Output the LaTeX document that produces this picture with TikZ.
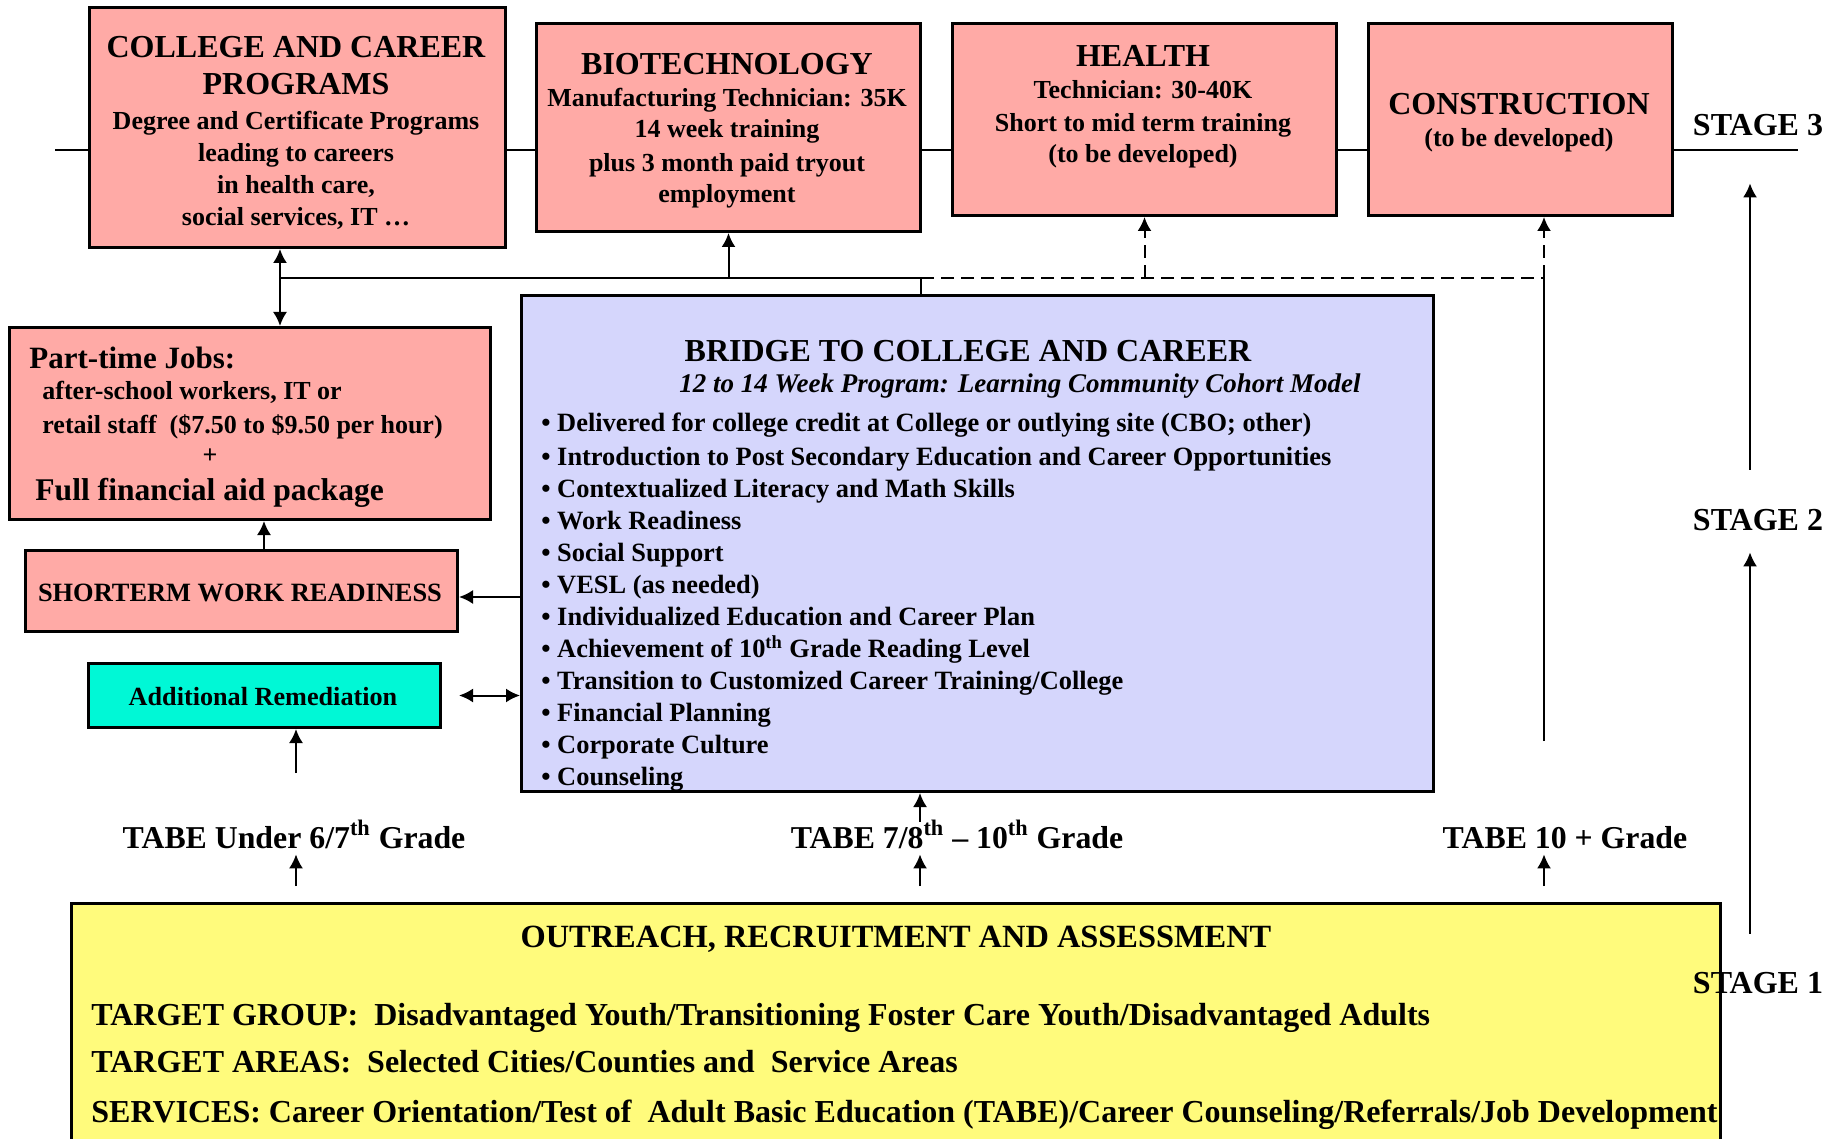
\documentclass[tikz,border=0pt]{standalone}
\usepackage{fontspec}
\setmainfont{Liberation Serif}
\usetikzlibrary{arrows.meta}
\definecolor{boxpink}{HTML}{FFAAA6}
\definecolor{bridgeblue}{HTML}{D5D6FC}
\definecolor{outreachyellow}{HTML}{FFFB7C}
\definecolor{remcyan}{HTML}{00F8D6}
\newcommand\fsz[1]{\fontsize{#1}{#1}\selectfont\bfseries}
\begin{document}
\begin{tikzpicture}[x=0.5pt,y=-0.5pt,
  >={Latex[length=7pt,width=7pt]},
  box/.style={draw, line width=1.5pt, anchor=north west, inner sep=0pt},
  pinkbox/.style={box, fill=boxpink},
  txt/.style={inner sep=0pt, anchor=base},
  ltxt/.style={inner sep=0pt, anchor=base west},
  title/.style={txt, font=\fsz{16}},
  body/.style={txt, font=\fsz{13}},
  bullet/.style={ltxt, font=\fsz{13.2}},
  tabe/.style={txt, font=\fsz{15.9}, text height=13pt, text depth=0pt},
  stage/.style={txt, font=\fsz{16}, text height=10.6pt, text depth=0pt},
  conn/.style={line width=1pt},
  rail/.style={line width=1.4pt},
  dashconn/.style={line width=1pt, dash pattern=on 6.5pt off 3.5pt},
]
\clip (0,0) rectangle (1837,1139);

% ---------- boxes ----------
\node[pinkbox, minimum width=208pt, minimum height=120pt] (college) at (88,6) {};
\node[pinkbox, minimum width=192pt, minimum height=104pt] (biotech) at (535,22) {};
\node[pinkbox, minimum width=192pt, minimum height=96pt] (health) at (951,22) {};
\node[pinkbox, minimum width=152pt, minimum height=96pt] (constr) at (1367,22) {};
\node[pinkbox, minimum width=240.5pt, minimum height=96pt] (parttime) at (8,326) {};
\node[pinkbox, minimum width=216pt, minimum height=40.5pt] (shortterm) at (24,549) {};
\node[box, fill=remcyan, minimum width=176pt, minimum height=32pt] (addrem) at (87,662) {};
\node[box, fill=bridgeblue, minimum width=456pt, minimum height=248pt] (bridge) at (520,294) {};
\node[box, fill=outreachyellow, minimum width=824.5pt, minimum height=122pt] (outreach) at (70,902) {};

% ---------- stage 3 programs ----------
\node[title] (colT1) at (296,58) {COLLEGE AND CAREER};
\node[title] (colT2) at (296,95) {PROGRAMS};
\node[body] (colB1) at (296,130) {Degree and Certificate Programs};
\node[body] (colB2) at (296,162) {leading to careers};
\node[body] (colB3) at (296,194) {in health care,};
\node[body] (colB4) at (296,226) {social services, IT …};

\node[title] (bioT) at (727,75) {BIOTECHNOLOGY};
\node[body] (bioB1) at (727,107) {Manufacturing Technician: 35K};
\node[body] (bioB2) at (727,138) {14 week training};
\node[body] (bioB3) at (727,172) {plus 3 month paid tryout};
\node[body] (bioB4) at (727,203) {employment};

\node[title] (heaT) at (1143,67) {HEALTH};
\node[body] (heaB1) at (1143,99) {Technician: 30-40K};
\node[body] (heaB2) at (1143,132) {Short to mid term training};
\node[body] (heaB3) at (1143,163) {(to be developed)};

\node[title] (conT) at (1519,115) {CONSTRUCTION};
\node[body] (conB) at (1519,147) {(to be developed)};

% ---------- left column ----------
\node[ltxt, font=\fsz{15.5}] (ptT) at (29,368) {Part-time Jobs:};
\node[ltxt, font=\fsz{13}] (ptB1) at (42,400) {after-school workers, IT or};
\node[ltxt, font=\fsz{13}] (ptB2) at (42,433) {retail staff\ \ (\$7.50 to \$9.50 per hour)};
\node[txt, font=\fsz{13}] (ptPlus) at (210,463) {+};
\node[ltxt, font=\fsz{15.8}] (ptB3) at (35,500) {Full financial aid package};

\node[txt, font=\fsz{13.2}] (stT) at (240,601) {SHORTERM WORK READINESS};
\node[txt, font=\fsz{13.1}] (remT) at (263,705) {Additional Remediation};

% ---------- bridge ----------
\node[title] (brT) at (968,362) {BRIDGE TO COLLEGE AND CAREER};
\node[txt, font=\fsz{13.5}\itshape] (brS) at (1020,393) {12 to 14 Week Program: Learning Community Cohort Model};
\node[bullet] (b1) at (541,431) {• Delivered for college credit at College or outlying site (CBO; other)};
\node[bullet] (b2) at (541,465) {• Introduction to Post Secondary Education and Career Opportunities};
\node[bullet] (b3) at (541,497) {• Contextualized Literacy and Math Skills};
\node[bullet] (b4) at (541,529) {• Work Readiness};
\node[bullet] (b5) at (541,561) {• Social Support};
\node[bullet] (b6) at (541,593) {• VESL (as needed)};
\node[bullet] (b7) at (541,625) {• Individualized Education and Career Plan};
\node[bullet] (b8) at (541,657) {• Achievement of 10\textsuperscript{th} Grade Reading Level};
\node[bullet] (b9) at (541,689) {• Transition to Customized Career Training/College};
\node[bullet] (b10) at (541,721) {• Financial Planning};
\node[bullet] (b11) at (541,753) {• Corporate Culture};
\node[bullet] (b12) at (541,785) {• Counseling};

% ---------- assessment levels ----------
\node[tabe] (tabeA) at (294,848) {TABE Under 6/7\textsuperscript{th} Grade};
\node[tabe] (tabeB) at (957,848) {TABE 7/8\textsuperscript{th} – 10\textsuperscript{th} Grade};
\node[tabe] (tabeC) at (1565,848) {TABE 10 + Grade};

% ---------- outreach ----------
\node[txt, font=\fsz{16.2}] (orT) at (896,947) {OUTREACH, RECRUITMENT AND ASSESSMENT};
\node[ltxt, font=\fsz{16}] (or1) at (91,1025) {TARGET GROUP:\ \ Disadvantaged Youth/Transitioning Foster Care Youth/Disadvantaged Adults};
\node[ltxt, font=\fsz{16}] (or2) at (91,1072) {TARGET AREAS:\ \ Selected Cities/Counties and\ \ Service Areas};
\node[ltxt, font=\fsz{16}] (or3) at (91,1122) {SERVICES: Career Orientation/Test of\ \ Adult Basic Education (TABE)/Career Counseling/Referrals/Job Development};

% ---------- stages ----------
\node[stage] (stage3) at (1758,136) {STAGE 3};
\node[stage] (stage2) at (1758,530) {STAGE 2};
\node[stage] (stage1) at (1758,993) {STAGE 1};

% ---------- helper points ----------
\coordinate (lineL) at (55,150);
\coordinate (lineR) at (1798,150);
\coordinate (jL) at (280,278);
\coordinate (jM) at (921,278);
\coordinate (jR) at (1544,278);
\coordinate (cBot) at (1544,741);
\coordinate (swY) at (0,597);
\coordinate (ptX) at (264,0);
\coordinate (remFoot) at (296,773);
\coordinate (stemA) at (296,886);
\coordinate (stemB) at (920,886);
\coordinate (stemC) at (1544,886);
\coordinate (stX) at (1750,0);

% ---------- stage 3 rail ----------
\draw[rail] (lineL) -- (lineL -| college.west);
\draw[rail] (college.east |- lineL) -- (biotech.west |- lineL);
\draw[rail] (biotech.east |- lineL) -- (health.west |- lineL);
\draw[rail] (health.east |- lineL) -- (constr.west |- lineL);
\draw[rail] (constr.east |- lineL) -- (lineR);

% ---------- connectors ----------
\draw[conn, <->] (college.south -| jL) -- (parttime.north -| jL);
\draw[conn] (jL) -- (jM);
\draw[conn, ->] (jM -| biotech.south) -- (biotech.south);
\draw[line width=0.7pt] (jM) -- (jM |- bridge.north);
\draw[dashconn] (jM) -- (jR);
\draw[dashconn, ->] (jM -| health.south) -- (health.south);
\draw[dashconn, ->] (jR) -- (jR |- constr.south);
\draw[conn] (cBot) -- (jR);

\draw[conn, ->] (bridge.west |- swY) -- (shortterm.east |- swY);
\draw[conn, ->] (shortterm.north -| ptX) -- (parttime.south -| ptX);
\draw[conn, <->, shorten <=8.5pt] (addrem.east) -- (addrem.east -| bridge.west);
\draw[conn, ->] (remFoot) -- (remFoot |- addrem.south);

\draw[conn, ->, shorten >=3pt] (stemA) -- (stemA |- tabeA.south);
\draw[conn, ->, shorten >=3pt] (stemB) -- (stemB |- tabeB.south);
\draw[conn, ->, shorten >=3pt] (stemC) -- (stemC |- tabeC.south);
\draw[conn, ->] (tabeB.north -| stemB) -- (stemB |- bridge.south);

\draw[conn, ->, shorten <=18.9pt, shorten >=11pt] (stage1.north -| stX) -- (stage2.south -| stX);
\draw[conn, ->, shorten <=19.4pt, shorten >=23.5pt] (stage2.north -| stX) -- (stage3.south -| stX);
\end{tikzpicture}
\end{document}
